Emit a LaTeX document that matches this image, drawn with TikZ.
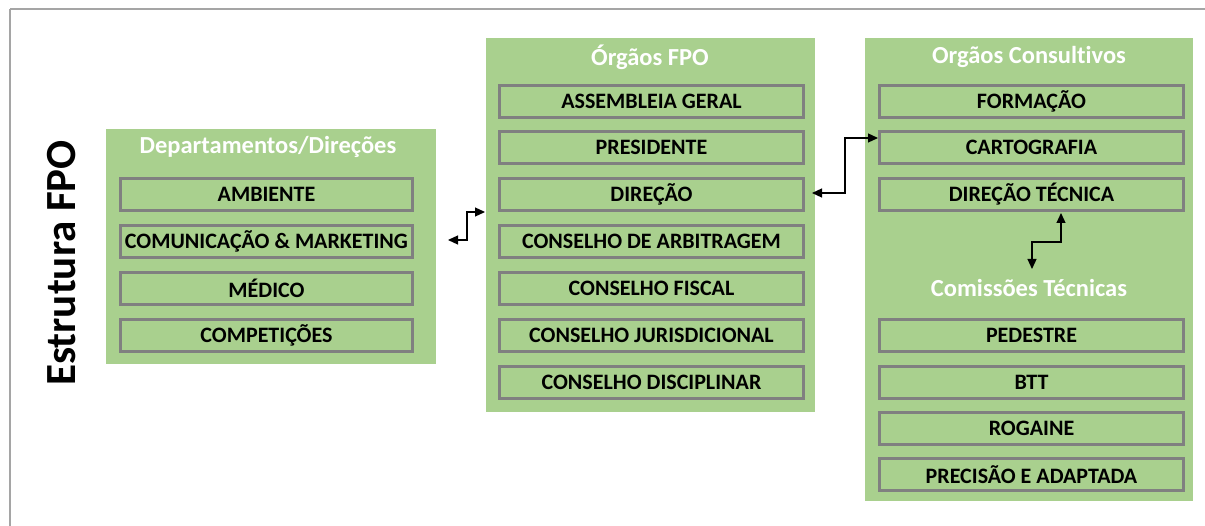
\documentclass[tikz,border=0pt]{standalone}
\usepackage{fontspec}
\setmainfont{Carlito}[Ligatures=NoCommon]
\usetikzlibrary{arrows.meta}
\definecolor{pgreen}{RGB}{169,208,142}
\definecolor{igray}{RGB}{128,128,128}
\definecolor{fgray}{RGB}{165,165,165}
\tikzset{
  x=1pt, y=-1pt,
  panel/.style={fill=pgreen, draw=none, anchor=north west, inner sep=0pt},
  itembox/.style={fill=pgreen, draw=igray, line width=3pt, anchor=north west, inner sep=0pt,
    minimum height=32pt, font=\fontsize{22}{25}\selectfont\bfseries, text=black},
  ptitle/.style={font=\fontsize{24.5}{28}\selectfont\bfseries, text=white, inner sep=0pt},
  link/.style={line width=1.2pt, {Triangle[length=10pt,width=9pt]}-{Triangle[length=10pt,width=9pt]}}
}
\begin{document}
\begin{tikzpicture}
\useasboundingbox (0,0) rectangle (1205,526);
\draw[fgray, line width=1.5pt] (10,9) -- (1215,9);
\draw[fgray, line width=1.5pt] (10,9) -- (10,540);

% title
\node[rotate=90, font=\fontsize{43}{48}\selectfont\bfseries, inner sep=0pt] (title) at (62,263) {Estrutura FPO};

% left panel
\node[panel, minimum width=330pt, minimum height=235pt] (dep) at (106,129) {};
\node[ptitle] (depT) at (268,147) {Departamentos/Direções};
\node[itembox, minimum width=292pt] (amb) at (119,177) {AMBIENTE};
\node[itembox, minimum width=292pt] (com) at (119,224) {COMUNICAÇÃO \& MARKETING};
\node[itembox, minimum width=292pt] (med) at (119,271) {MÉDICO};
\node[itembox, minimum width=292pt] (cmp) at (119,318) {COMPETIÇÕES};

% middle panel
\node[panel, minimum width=329pt, minimum height=374pt] (org) at (486,38) {};
\node[ptitle] (orgT) at (650,57) {Órgãos FPO};
\node[itembox, minimum width=304pt] (ag) at (498,84) {ASSEMBLEIA GERAL};
\node[itembox, minimum width=304pt] (pre) at (498,130) {PRESIDENTE};
\node[itembox, minimum width=304pt] (dir) at (498,177) {DIREÇÃO};
\node[itembox, minimum width=304pt] (arb) at (498,224) {CONSELHO DE ARBITRAGEM};
\node[itembox, minimum width=304pt] (fis) at (498,271) {CONSELHO FISCAL};
\node[itembox, minimum width=304pt] (jur) at (498,318) {CONSELHO JURISDICIONAL};
\node[itembox, minimum width=304pt] (dis) at (498,365) {CONSELHO DISCIPLINAR};

% right panel
\node[panel, minimum width=328pt, minimum height=463pt] (con) at (865,38) {};
\node[ptitle] (conT) at (1029,57) {Orgãos Consultivos};
\node[itembox, minimum width=304pt] (for) at (878,84) {FORMAÇÃO};
\node[itembox, minimum width=304pt] (car) at (878,130) {CARTOGRAFIA};
\node[itembox, minimum width=304pt] (dt) at (878,177) {DIREÇÃO TÉCNICA};
\node[ptitle] (comT) at (1029,288) {Comissões Técnicas};
\node[itembox, minimum width=304pt] (ped) at (878,318) {PEDESTRE};
\node[itembox, minimum width=304pt] (btt) at (878,365) {BTT};
\node[itembox, minimum width=304pt] (rog) at (878,411) {ROGAINE};
\node[itembox, minimum width=304pt] (pa) at (878,457) {PRECISÃO E ADAPTADA};

% connectors
\coordinate (l1) at (448,240);
\coordinate (l2) at (485,212);
\draw[link] (l1) -| (467,226) |- (l2);
\coordinate (r1) at (812,193);
\coordinate (r2) at (878,138);
\draw[link] (r1) -| (845,166) |- (r2);
\coordinate (v1) at (1061,213);
\coordinate (v2) at (1032,269);
\draw[link] (v1) |- (1046,242) -| (v2);
\end{tikzpicture}
\end{document}
